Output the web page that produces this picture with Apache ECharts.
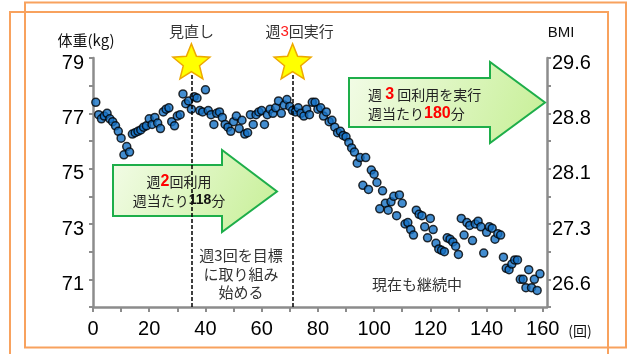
<!DOCTYPE html>
<html>
<head>
<meta charset="utf-8">
<script src="https://cdn.jsdelivr.net/npm/echarts@6/dist/echarts.min.js"></script>
<style>
  html, body { margin: 0; padding: 0; background: #fff; }
  #chart { width: 629px; height: 354px; }
</style>
</head>
<body>
<div id="chart"></div>
<script>
// weight (kg) per session, session number = index + 1
const weights = [
  77.4, 76.95, 76.8, 76.9, 77.0, 76.8, 76.7, 76.55, 76.35, 76.1,
  75.5, 75.8, 75.6, 76.25, 76.3, 76.35, 76.4, 76.5, 76.55, 76.8,
  76.6, 76.85, 76.65, 76.45, 77.05, 77.15, 77.2, 76.7, 76.55, 76.9,
  76.95, 77.7, 77.35, 77.45, 77.15, 77.6, 77.55, 77.1, 77.05, 77.85,
  77.1, 76.95, 76.6, 77.0, 77.05, 76.85, 76.6, 76.5, 76.35, 76.7,
  76.9, 76.45, 76.75, 76.25, 76.3, 76.95, 76.6, 76.95, 77.05, 77.1,
  76.6, 76.95, 77.15, 77.0, 77.2, 77.45, 77.0, 77.3, 77.5, 77.25,
  77.1, 77.05, 77.2, 77.0, 76.9, 77.15, 76.95, 77.4, 77.4, 77.15,
  77.2, 76.9, 77.05, 76.7, 76.75, 76.5, 76.3, 76.35, 76.2, 76.15,
  75.95, 75.75, 75.6, 75.2, 75.4, 74.4, 75.4, 74.25, 74.95, 74.8,
  74.5, 73.55, 74.2, 73.75, 73.5, 73.8, 74.0, 73.3, 74.05, 73.75,
  73.0, 73.05, 72.8, 72.6, 73.5, 73.35, 73.3, 72.9, 72.5, 73.2,
  72.8, 72.3, 72.1, 72.05, 72.0, 72.5, 72.45, 72.35, 72.2, 71.9,
  73.2, 72.6, 73.05, 72.95, 72.4, 73.0, 73.1, 72.9, 71.95, 72.7,
  72.9, 72.85, 72.45, 72.65, 72.6, 71.8, 71.4, 71.35, 71.55, 71.7,
  71.7, 71.0, 71.0, 70.7, 71.35, 70.7, 71.0, 70.6, 71.2
]

// right axis: BMI labels shown at these kg ticks
const bmiTickKg = [79, 77, 75, 73, 71]
const bmiLabels = ['29.6', '28.8', '28.1', '27.3', '26.6']

// milestones (session number) and their captions
const milestoneSessions = [35, 71]
const milestoneLabels = ['{a|見直し}', '{a|週}{r|3}{a|回実行}']

const FONT = "'Liberation Sans', 'Noto Sans CJK JP', sans-serif"
const JP = "'Noto Sans CJK JP', 'Liberation Sans', sans-serif"
const AXIS_GRAY = '#8c8c8c'

// five point star path
const starPath = (() => {
  let pts = []
  for (let i = 0; i < 10; i++) {
    const a = (-90 + i * 36) * Math.PI / 180
    const r = i % 2 === 0 ? 50 : 22
    pts.push((50 + r * Math.cos(a)).toFixed(2) + ' ' + (50 + r * Math.sin(a)).toFixed(2))
  }
  return 'path://M' + pts.join(' L') + ' Z'
})()

const arrowFill = {
  type: 'linear', x: 0, y: 0, x2: 1, y2: 1,
  colorStops: [{ offset: 0, color: '#f3fce8' }, { offset: 1, color: '#c6ef95' }]
}

const chart = echarts.init(document.getElementById('chart'))

chart.setOption({
  backgroundColor: '#fff',
  animation: false,
  grid: { left: 93, right: 82, top: 58, bottom: 47 },
  xAxis: {
    type: 'value',
    min: 0,
    max: 161.5,
    interval: 10,
    splitLine: { show: false },
    axisLine: { show: true, onZero: false, lineStyle: { color: AXIS_GRAY, width: 2.5 } },
    axisTick: { show: true, length: 5, lineStyle: { color: AXIS_GRAY, width: 2 } },
    axisLabel: {
      formatter: v => (v % 20 === 0 ? String(v) : ''),
      showMaxLabel: false,
      fontSize: 20, color: '#000', fontFamily: FONT, margin: 12
    }
  },
  yAxis: [
    {
      type: 'value',
      min: 70, max: 79, interval: 1,
      splitLine: { show: false },
      axisLine: { show: true, onZero: false, lineStyle: { color: AXIS_GRAY, width: 2.5 } },
      axisTick: { show: true, length: 4, lineStyle: { color: AXIS_GRAY, width: 2 } },
      axisLabel: {
        formatter: v => (v % 2 === 1 ? String(v) : ''),
        fontSize: 20, color: '#000', fontFamily: FONT, margin: 9,
        verticalAlign: 'top', lineHeight: 10
      }
    },
    {
      type: 'value',
      position: 'right',
      min: 70, max: 79, interval: 1,
      splitLine: { show: false },
      axisLine: { show: true, onZero: false, lineStyle: { color: AXIS_GRAY, width: 2.5 } },
      axisTick: { show: true, length: 4, lineStyle: { color: AXIS_GRAY, width: 2 } },
      axisLabel: {
        formatter: v => {
          const i = bmiTickKg.indexOf(v)
          return i >= 0 ? bmiLabels[i] : ''
        },
        fontSize: 20, color: '#000', fontFamily: FONT, margin: 5,
        verticalAlign: 'top', lineHeight: 10
      }
    }
  ],
  series: [
    {
      type: 'scatter',
      data: weights.map((w, i) => [i + 1, w]),
      symbol: 'circle',
      symbolSize: 8,
      itemStyle: { color: '#1470c4', borderColor: '#000', borderWidth: 1.5 },
      z: 3,
      markLine: {
        silent: true,
        symbol: ['none', 'none'],
        label: { show: false },
        lineStyle: { color: '#000', type: [4, 2], width: 1.5 },
        data: milestoneSessions.map(s => [{ coord: [s, 70] }, { coord: [s, 78.45] }])
      },
      markPoint: {
        silent: true,
        symbol: starPath,
        symbolSize: [37, 35],
        itemStyle: { color: '#ffff00', borderColor: '#eea800', borderWidth: 1.5 },
        label: {
          show: true,
          position: 'top',
          distance: 4,
          rich: {
            a: { fontSize: 15, color: '#333', fontFamily: JP },
            r: { fontSize: 15, color: '#ff1a1a', fontFamily: FONT }
          }
        },
        data: milestoneSessions.map((s, i) => ({
          coord: [s, 78.88],
          label: { formatter: milestoneLabels[i], offset: [i === 1 ? 7 : 0, 0] }
        }))
      }
    }
  ],
  graphic: [
    // orange frames
    { type: 'rect', shape: { x: 25, y: 2.5, width: 601, height: 345 },
      style: { fill: 'none', stroke: '#f8a25e', lineWidth: 2 }, z: 0 },
    { type: 'rect', shape: { x: 10, y: 12, width: 598, height: 360 },
      style: { fill: 'none', stroke: '#f8a25e', lineWidth: 2 }, z: 0 },
    // axis titles
    { type: 'text', x: 86, y: 40, z: 10,
      style: { text: '体重(kg)', textAlign: 'center', textVerticalAlign: 'middle',
        font: '15px ' + JP, fill: '#111' } },
    { type: 'text', x: 561, y: 33, z: 10,
      style: { text: 'BMI', textAlign: 'center', textVerticalAlign: 'middle',
        font: '15px ' + FONT, fill: '#111' } },
    { type: 'text', x: 580, y: 331, z: 10,
      style: { text: '(回)', textAlign: 'center', textVerticalAlign: 'middle',
        font: '14px ' + JP, fill: '#111' } },
    // arrow 1
    { type: 'polygon', z: 5,
      shape: { points: [[113, 165], [222, 165], [222, 150], [277, 191.5], [222, 232], [222, 216], [113, 216]] },
      style: { fill: arrowFill, stroke: '#1eae4a', lineWidth: 2 } },
    { type: 'text', x: 179, y: 191, z: 6,
      style: {
        text: '{a|週}{r|2}{a|回利用}\n{a|週当たり}{b|118}{a|分}',
        textAlign: 'center', textVerticalAlign: 'middle', lineHeight: 19,
        rich: {
          a: { fontSize: 14, fill: '#222', fontFamily: JP, lineHeight: 19 },
          r: { fontSize: 16, fill: '#ff0000', fontWeight: 'bold', fontFamily: FONT, lineHeight: 19 },
          b: { fontSize: 14, fill: '#111', fontWeight: 'bold', fontFamily: FONT, lineHeight: 19 }
        }
      } },
    // arrow 2
    { type: 'polygon', z: 5,
      shape: { points: [[349, 78], [490, 78], [490, 62], [545, 102.5], [490, 143], [490, 127], [349, 127]] },
      style: { fill: arrowFill, stroke: '#1eae4a', lineWidth: 2 } },
    { type: 'text', x: 368, y: 104, z: 6,
      style: {
        text: '{a|週 }{r|3}{a| 回利用を実行}\n{a|週当たり}{r|180}{a|分}',
        textAlign: 'left', textVerticalAlign: 'middle', lineHeight: 19,
        rich: {
          a: { fontSize: 14, fill: '#222', fontFamily: JP, lineHeight: 19 },
          r: { fontSize: 16, fill: '#ff0000', fontWeight: 'bold', fontFamily: FONT, lineHeight: 19 }
        }
      } },
    // notes
    { type: 'text', x: 241, y: 274, z: 6,
      style: {
        text: '週3回を目標\nに取り組み\n始める',
        textAlign: 'center', textVerticalAlign: 'middle', lineHeight: 18.5,
        font: '15px ' + JP, fill: '#333'
      } },
    { type: 'text', x: 417, y: 284, z: 6,
      style: {
        text: '現在も継続中',
        textAlign: 'center', textVerticalAlign: 'middle',
        font: '15px ' + JP, fill: '#333'
      } }
  ]
})
</script>
</body>
</html>
